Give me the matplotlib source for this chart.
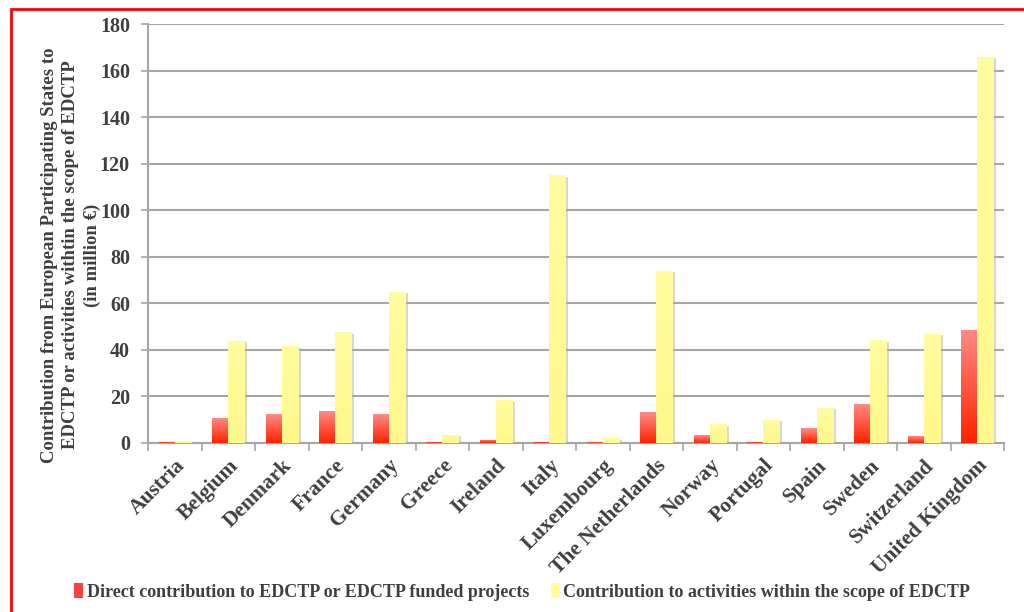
import numpy as np
import matplotlib
matplotlib.use("Agg")
import matplotlib.pyplot as plt
from matplotlib.patches import Rectangle, Patch
from matplotlib.colors import LinearSegmentedColormap
import matplotlib.patheffects as pe

# Datos (millones de €)
countries = ["Austria", "Belgium", "Denmark", "France", "Germany", "Greece",
             "Ireland", "Italy", "Luxembourg", "The Netherlands", "Norway",
             "Portugal", "Spain", "Sweden", "Switzerland", "United Kingdom"]
direct = [0.5, 10.7, 12.4, 13.7, 12.4, 0.5, 1.5, 0.5, 0.3, 13.3, 3.4,
          0.5, 6.4, 16.7, 3.0, 48.4]
activities = [1.0, 44.0, 41.6, 47.6, 65.0, 3.4, 18.4, 115.0, 2.0, 74.0, 8.1,
              9.9, 15.0, 44.1, 47.0, 166.0]
series_labels = ["Direct contribution to EDCTP or EDCTP funded projects",
                 "Contribution to activities within the scope of EDCTP"]
ylabel = ("Contribution from European Participating States to\n"
          "EDCTP or activities withtin the scope of EDCTP\n(in million \u20ac)")

TXT = "#3f3f3f"
GRID = "#a6a6a6"
FONT = ["Liberation Serif", "DejaVu Serif"]
plt.rcParams["font.family"] = FONT
plt.rcParams["font.weight"] = "bold"

fig = plt.figure(figsize=(10.24, 6.12), dpi=100)
ax = fig.add_axes([148 / 1024, 1 - 443 / 612, (1004 - 148) / 1024, (443 - 24) / 612])

x = np.arange(len(countries))
w = 0.3
shadow = [pe.SimplePatchShadow(offset=(2, -1), shadow_rgbFace="#b0b0b0", alpha=0.5), pe.Normal()]
red_bars = ax.bar(x - w / 2, direct, w, color="#ff4a3a", zorder=3, path_effects=shadow)
yel_bars = ax.bar(x + w / 2, activities, w, color="#fffc9a", zorder=3, path_effects=shadow)

# Degradados dentro de las barras
red_cmap = LinearSegmentedColormap.from_list("r", ["#ff2200", "#ff8a84"])
yel_cmap = LinearSegmentedColormap.from_list("y", ["#fff88a", "#fffca0"])
grad = np.linspace(0, 1, 100).reshape(-1, 1)
for bars, cmap in ((red_bars, red_cmap), (yel_bars, yel_cmap)):
    for b in bars:
        x0, y0 = b.get_x(), b.get_y()
        im = ax.imshow(grad, cmap=cmap, origin="lower", aspect="auto",
                       extent=[x0, x0 + b.get_width(), y0, y0 + b.get_height()],
                       zorder=3.5)
        im.set_clip_path(b)

ax.set_xlim(-0.5, len(countries) - 0.5)
ax.set_ylim(0, 180)
ax.set_yticks(np.arange(0, 181, 20))
ax.yaxis.grid(True, color=GRID, linewidth=1.5, zorder=0)
ax.set_axisbelow(True)

ax.set_xticks(x)
ax.set_xticklabels(countries, rotation=45, ha="right", rotation_mode="anchor",
                   fontsize=15.5, fontweight="bold", color=TXT)
ax.set_xticks(np.arange(-0.5, len(countries), 1), minor=True)
ax.tick_params(axis="x", which="major", length=0, pad=9)
ax.tick_params(axis="x", which="minor", length=6, width=1.2, color=GRID)
ax.tick_params(axis="y", length=5, width=1.2, color=GRID, labelsize=14.5,
               labelcolor=TXT, pad=8)
for lab in ax.get_yticklabels():
    lab.set_fontweight("bold")

for s in ("top", "right"):
    ax.spines[s].set_visible(False)
for s in ("left", "bottom"):
    ax.spines[s].set_color(GRID)
    ax.spines[s].set_linewidth(1.5)

fig.text(71 / 1024, 1 - 255 / 612, ylabel, rotation=90, ha="center", va="center",
         multialignment="center", fontsize=13.5, fontweight="bold", color=TXT,
         linespacing=1.3)

handles = [Patch(facecolor="#ff4040"), Patch(facecolor="#ffff99")]
fig.legend(handles, series_labels, loc="center", bbox_to_anchor=(0.51, 1 - 592 / 612),
           ncol=2, frameon=False, handlelength=0.5, handleheight=0.9,
           handletextpad=0.2, columnspacing=1.2,
           prop={"family": FONT, "weight": "bold", "size": 13},
           labelcolor=TXT)

# Borde rojo de la figura
fig.patches.append(Rectangle((10.5 / 1024, -0.2), 1.5, 1.2 - 8.5 / 612,
                             transform=fig.transFigure, fill=False,
                             edgecolor="#ff0000", linewidth=2))

fig.savefig("out.png", dpi=100)
